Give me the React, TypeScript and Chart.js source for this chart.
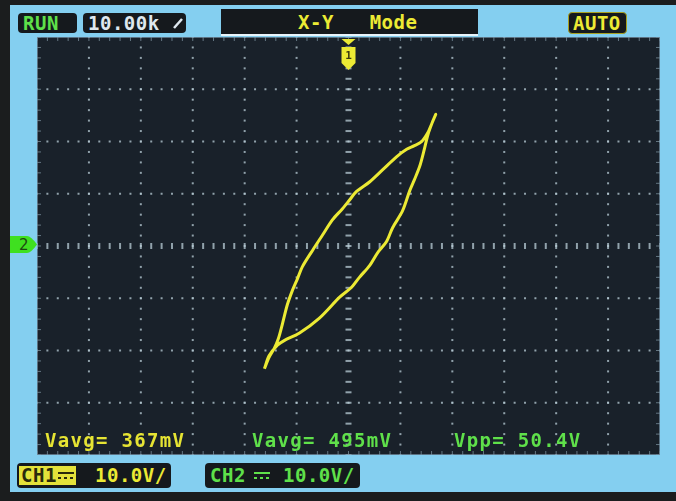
import { useEffect, useRef } from "react"
import { Chart, registerables, type Plugin } from "chart.js"

Chart.register(...registerables)

// X-Y trace, in volts (CH1 = X, CH2 = Y)
const ch1Volts = [
  -16.2, -15.3, -14.3, -13.5, -12.7, -11.8, -10.8, -9.8, -8.9, -6.9, -5.0, -3.1, -1.2, 0.2, 1.5, 4.1, 6.6, 9.3,
  11.2, 12.7, 14.1, 15.3, 16.0, 16.8, 16.2, 15.3, 14.5, 13.7, 12.7, 11.8, 10.4, 8.5, 7.3, 5.6, 4.1, 2.1, 0.6, -1.7,
  -5.6, -9.5, -12.4, -13.7, -15.3, -16.2,
]
const ch2Volts = [
  -23.5, -21.3, -19.6, -17.7, -14.8, -11.3, -8.5, -6.2, -4.0, -0.8, 2.1, 5.0, 7.1, 8.8, 10.4, 12.3, 14.6, 17.1,
  18.5, 19.2, 20.0, 21.7, 23.3, 25.2, 23.8, 21.3, 18.1, 15.2, 12.7, 10.6, 6.7, 3.5, 0.8, -1.3, -3.7, -6.0, -7.9, -9.8,
  -13.8, -16.7, -18.1, -19.0, -21.0, -23.5,
]

const measurements = ["Vavg= 367mV", "Vavg= 495mV", "Vpp= 50.4V"]
const measureColors = ["#e6e433", "#5fe04a", "#5fe04a"]
const measureLeft = [45, 252, 454]

const voltsPerDiv = 10
const xDivs = 12
const yDivs = 8
const subDivs = 5

const YELLOW = "#ecea34"
const GREEN = "#5fe04a"
const FONT = "'DejaVu Sans Mono', monospace"

const scopeGrid: Plugin = {
  id: "scopeGrid",
  beforeDatasetsDraw(chart) {
    const { ctx, chartArea } = chart
    const xs = chart.scales.x
    const ys = chart.scales.y
    const step = voltsPerDiv / subDivs
    const xMax = (xDivs / 2) * voltsPerDiv
    const yMax = (yDivs / 2) * voltsPerDiv
    ctx.save()
    ctx.fillStyle = "#19212a"
    ctx.fillRect(chartArea.left, chartArea.top, chartArea.width, chartArea.height)
    ctx.fillStyle = "rgba(185,205,215,0.75)"
    // dotted division lines
    for (let v = -xMax + voltsPerDiv; v < xMax; v += voltsPerDiv) {
      const px = xs.getPixelForValue(v)
      for (let w = -yMax; w <= yMax; w += step) {
        const py = ys.getPixelForValue(w)
        if (v === 0) ctx.fillRect(px - 3, py - 1, 6, 2)
        else ctx.fillRect(px - 1, py - 1, 2, 2)
      }
    }
    for (let w = -yMax + voltsPerDiv; w < yMax; w += voltsPerDiv) {
      const py = ys.getPixelForValue(w)
      for (let v = -xMax; v <= xMax; v += step) {
        const px = xs.getPixelForValue(v)
        if (w === 0) ctx.fillRect(px - 1, py - 3, 2, 6)
        else ctx.fillRect(px - 1, py - 1, 2, 2)
      }
    }
    // edge ticks
    ctx.fillStyle = "rgba(150,175,190,0.6)"
    for (let v = -xMax; v <= xMax; v += step) {
      const px = xs.getPixelForValue(v)
      ctx.fillRect(px - 0.5, chartArea.top, 1, 4)
      ctx.fillRect(px - 0.5, chartArea.bottom - 4, 1, 4)
    }
    for (let w = -yMax; w <= yMax; w += step) {
      const py = ys.getPixelForValue(w)
      ctx.fillRect(chartArea.left, py - 0.5, 4, 1)
      ctx.fillRect(chartArea.right - 4, py - 0.5, 4, 1)
    }
    ctx.strokeStyle = "rgba(120,150,170,0.7)"
    ctx.lineWidth = 1
    ctx.strokeRect(chartArea.left + 0.5, chartArea.top + 0.5, chartArea.width - 1, chartArea.height - 1)

    // trigger marker "1" at top centre
    const cx = xs.getPixelForValue(0)
    const top = chartArea.top
    ctx.fillStyle = YELLOW
    ctx.beginPath()
    ctx.moveTo(cx - 7, top + 2)
    ctx.lineTo(cx + 7, top + 2)
    ctx.lineTo(cx, top + 8)
    ctx.closePath()
    ctx.fill()
    ctx.beginPath()
    ctx.moveTo(cx - 7, top + 10)
    ctx.lineTo(cx + 7, top + 10)
    ctx.lineTo(cx + 7, top + 26)
    ctx.lineTo(cx, top + 33)
    ctx.lineTo(cx - 7, top + 26)
    ctx.closePath()
    ctx.fill()
    ctx.fillStyle = "#3a3a10"
    ctx.font = "bold 11px " + FONT
    ctx.textAlign = "center"
    ctx.textBaseline = "middle"
    ctx.fillText("1", cx, top + 19)
    ctx.restore()
  },
}

function Box(props: {
  left: number
  top: number
  width: number
  height: number
  children?: any
  bg?: string
  border?: string
}) {
  return (
    <div
      style={{
        position: "absolute",
        left: props.left,
        top: props.top,
        width: props.width,
        height: props.height,
        background: props.bg ?? "#15191d",
        borderRadius: 4,
        border: props.border,
        boxSizing: "border-box",
      }}
    >
      {props.children}
    </div>
  )
}

function Txt(props: { left: number; top: number; color: string; size?: number; spacing?: number; text: string }) {
  return (
    <div
      style={{
        position: "absolute",
        left: props.left,
        top: props.top,
        color: props.color,
        fontFamily: FONT,
        fontWeight: "bold",
        fontSize: props.size ?? 19,
        lineHeight: "20px",
        whiteSpace: "pre",
        letterSpacing: props.spacing ?? 0.5,
      }}
    >
      {props.text}
    </div>
  )
}

function DcSymbol(props: { left: number; top: number; color: string }) {
  return (
    <svg style={{ position: "absolute", left: props.left, top: props.top }} width={16} height={12}>
      <rect x={0} y={3} width={16} height={2} fill={props.color} />
      <rect x={0} y={8} width={3} height={2} fill={props.color} />
      <rect x={6} y={8} width={3} height={2} fill={props.color} />
      <rect x={12} y={8} width={3} height={2} fill={props.color} />
    </svg>
  )
}

export default function App() {
  const chartRef = useRef<HTMLCanvasElement>(null)
  const chartInstance = useRef<Chart | null>(null)

  useEffect(() => {
    document.body.style.margin = "0"
    if (!chartRef.current) return
    const ctx = chartRef.current.getContext("2d")
    if (!ctx) return
    if (chartInstance.current) chartInstance.current.destroy()

    const points = ch1Volts.map((x, i) => ({ x, y: ch2Volts[i] }))

    chartInstance.current = new Chart(ctx, {
      type: "scatter",
      data: {
        datasets: [
          {
            data: points,
            showLine: true,
            borderColor: YELLOW,
            borderWidth: 3,
            pointRadius: 0,
            tension: 0.3,
          },
        ],
      },
      options: {
        animation: false,
        responsive: true,
        maintainAspectRatio: false,
        layout: { padding: 0 },
        plugins: { legend: { display: false }, tooltip: { enabled: false } },
        scales: {
          x: { type: "linear", min: -(xDivs / 2) * voltsPerDiv, max: (xDivs / 2) * voltsPerDiv, display: false },
          y: { type: "linear", min: -(yDivs / 2) * voltsPerDiv, max: (yDivs / 2) * voltsPerDiv, display: false },
        },
      },
      plugins: [scopeGrid],
    })

    return () => {
      if (chartInstance.current) {
        chartInstance.current.destroy()
        chartInstance.current = null
      }
    }
  }, [])

  return (
    <div style={{ position: "relative", width: 676, height: 501, overflow: "hidden", background: "#1b1d1e" }}>
      {/* screen */}
      <div
        style={{
          position: "absolute",
          left: 10,
          top: 5,
          width: 666,
          height: 487,
          background: "#84cff0",
        }}
      />

      {/* top status bar */}
      <Box left={18} top={13} width={59} height={20} />
      <Txt left={23} top={13} color={GREEN} text="RUN" />
      <Box left={83} top={13} width={103} height={20} />
      <Txt left={88} top={13} color="#dfe8ef" text="10.00k" />
      <svg style={{ position: "absolute", left: 172, top: 16 }} width={12} height={14}>
        <line x1={2} y1={12} x2={10} y2={3} stroke="#dfe8ef" strokeWidth={2.5} />
      </svg>
      <div
        style={{
          position: "absolute",
          left: 221,
          top: 9,
          width: 257,
          height: 25,
          background: "#15191d",
          borderBottom: "2px solid #e8f4fa",
        }}
      />
      <Txt left={298} top={12} color={YELLOW} text={"X-Y   Mode"} />
      <Box left={568} top={12} width={59} height={22} border="1px solid #a8a020" />
      <Txt left={573} top={13} color={YELLOW} text="AUTO" />

      {/* CH2 marker */}
      <svg style={{ position: "absolute", left: 10, top: 235 }} width={28} height={19}>
        <path d="M0 1 H17 Q21 1 27 9.5 Q21 18 17 18 H0 Z" fill="#3fe020" />
        <text x={9} y={15} fontSize={15} fontFamily="DejaVu Sans" fill="#1d4a10">
          2
        </text>
      </svg>

      {/* plot area */}
      <div style={{ position: "absolute", left: 37, top: 37, width: 623, height: 418 }}>
        <canvas ref={chartRef} />
      </div>

      {measurements.map((m, i) => (
        <Txt key={m + i} left={measureLeft[i]} top={430} color={measureColors[i]} spacing={1.3} text={m} />
      ))}

      {/* channel scale boxes */}
      <Box left={17} top={463} width={154} height={25} />
      <div style={{ position: "absolute", left: 19, top: 466, width: 57, height: 19, background: "#e4e23a" }} />
      <Txt left={21} top={465} color="#2a2a0c" text="CH1" />
      <DcSymbol left={58} top={469} color="#2a2a0c" />
      <Txt left={95} top={465} color={YELLOW} text="10.0V/" />
      <Box left={205} top={463} width={155} height={25} />
      <Txt left={210} top={465} color={GREEN} text="CH2" />
      <DcSymbol left={254} top={469} color={GREEN} />
      <Txt left={283} top={465} color={GREEN} text="10.0V/" />
    </div>
  )
}
